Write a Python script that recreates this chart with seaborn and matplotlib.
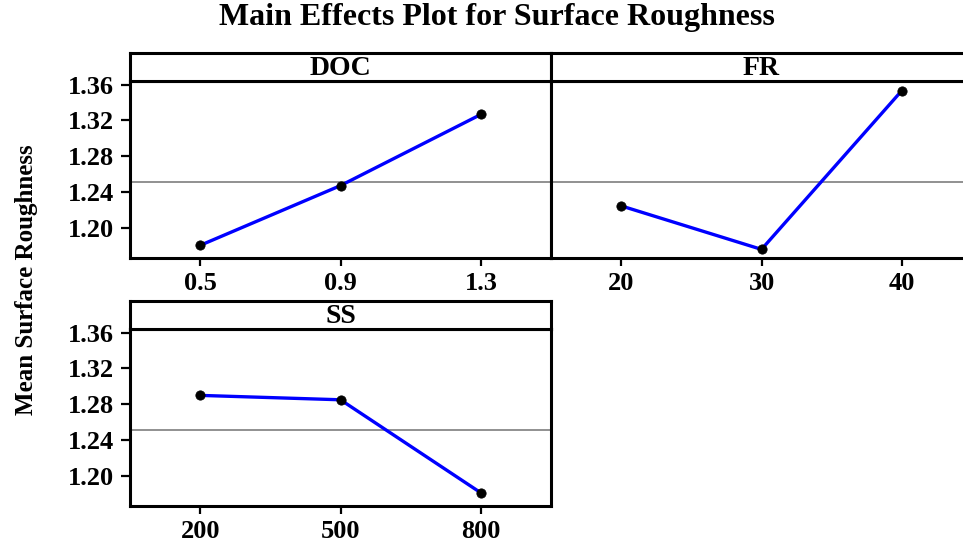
import numpy as np
import pandas as pd
import matplotlib
matplotlib.use("Agg")
import matplotlib.pyplot as plt
import seaborn as sns

# valores (medias por nivel)
doc_niveles = [0.5, 0.9, 1.3]
doc_medias = [1.1808, 1.2474, 1.3267]
fr_niveles = [20, 30, 40]
fr_medias = [1.2248, 1.1763, 1.3533]
ss_niveles = [200, 500, 800]
ss_medias = [1.2900, 1.2851, 1.1814]
doc_etiquetas = ["0.5", "0.9", "1.3"]
fr_etiquetas = ["20", "30", "40"]
ss_etiquetas = ["200", "500", "800"]
y_ticks = [1.20, 1.24, 1.28, 1.32, 1.36]

df = pd.concat([
    pd.DataFrame({"Factor": "DOC", "Nivel": doc_niveles, "Media": doc_medias}),
    pd.DataFrame({"Factor": "FR", "Nivel": fr_niveles, "Media": fr_medias}),
    pd.DataFrame({"Factor": "SS", "Nivel": ss_niveles, "Media": ss_medias}),
])
media_global = np.mean(doc_medias + fr_medias + ss_medias)

sns.set_style("white")
plt.rcParams["font.family"] = ["Liberation Serif", "DejaVu Serif"]
plt.rcParams["font.weight"] = "bold"
plt.rcParams["text.color"] = "black"
plt.rcParams["xtick.color"] = "black"
plt.rcParams["ytick.color"] = "black"

W, H = 963, 541
fig = plt.figure(figsize=(W / 100, H / 100), dpi=100)

# (factor, niveles, etiquetas, limites x, izquierda px, abajo px, mostrar eje y)
paneles = [
    ("DOC", doc_niveles, doc_etiquetas, (0.3, 1.5), 130, 258, True),
    ("FR", fr_niveles, fr_etiquetas, (15, 45), 551, 258, False),
    ("SS", ss_niveles, ss_etiquetas, (50, 950), 130, 506, True),
]
ancho_px, alto_px, strip_px = 421, 177, 28
lw_marco = 2.2

for factor, niveles, etiquetas, xlim, izq, abajo, eje_y in paneles:
    ax = fig.add_axes([izq / W, 1 - abajo / H, ancho_px / W, alto_px / H])
    datos = df[df["Factor"] == factor]
    ax.axhline(media_global, color="#888888", lw=1.3, zorder=1)
    sns.lineplot(data=datos, x="Nivel", y="Media", color="blue", lw=2.4, ax=ax, zorder=2)
    sns.scatterplot(data=datos, x="Nivel", y="Media", color="black", s=45,
                    edgecolor="black", ax=ax, zorder=3)
    ax.set_xlim(*xlim)
    ax.set_ylim(1.1667, 1.3640)
    ax.set_xticks(niveles)
    ax.set_xticklabels(etiquetas, fontsize=19, fontweight="bold")
    ax.set_xlabel("")
    ax.set_ylabel("")
    if eje_y:
        ax.set_yticks(y_ticks)
        ax.set_yticklabels([f"{v:.2f}" for v in y_ticks], fontsize=19, fontweight="bold")
        ax.tick_params(axis="y", direction="out", length=6.5, width=1.6, pad=5, left=True)
    else:
        ax.set_yticks([])
    ax.tick_params(axis="x", direction="out", length=6, width=1.6, pad=4, bottom=True)
    for s in ax.spines.values():
        s.set_linewidth(lw_marco)
        s.set_color("black")

    # cabecera del panel
    st = fig.add_axes([izq / W, 1 - (abajo - alto_px) / H, ancho_px / W, strip_px / H])
    st.set_xticks([])
    st.set_yticks([])
    for s in st.spines.values():
        s.set_linewidth(lw_marco)
        s.set_color("black")
    st.text(0.5, 0.45, factor, ha="center", va="center", fontsize=20,
            fontweight="bold", transform=st.transAxes)

fig.text(497 / W, 1 - 18 / H, "Main Effects Plot for Surface Roughness",
         ha="center", va="center", fontsize=23, fontweight="bold")
fig.text(27 / W, 1 - 280 / H, "Mean Surface Roughness", rotation=90,
         ha="center", va="center", fontsize=18, fontweight="bold")

fig.savefig("out.png", dpi=100)
